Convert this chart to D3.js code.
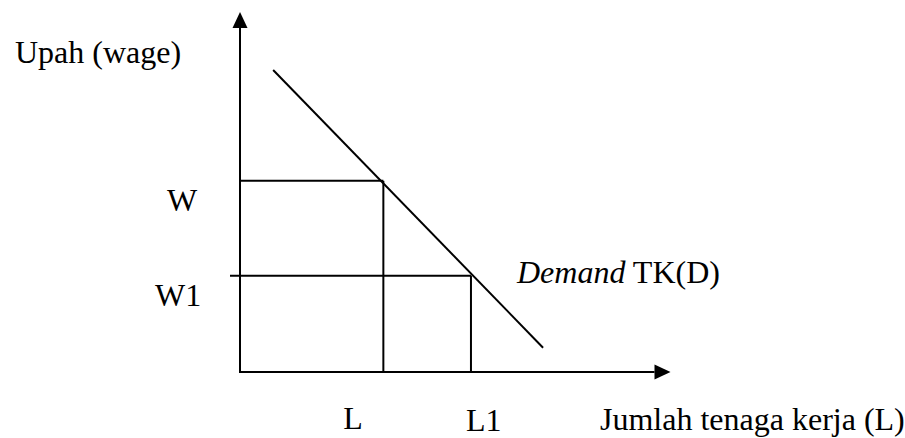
<!DOCTYPE html>
<html>
<head>
<meta charset="utf-8">
<script src="https://cdn.jsdelivr.net/npm/d3@7"></script>
<style>
  html, body { margin: 0; padding: 0; background: #fff; }
  svg text { font-family: "Liberation Serif", "Times New Roman", serif; fill: #000; }
</style>
</head>
<body>
<div id="chart"></div>
<script>
// data (axis units 0..100)
const demandLine = [ { x: 7.7, y: 83.9 }, { x: 70.4, y: 6.75 } ];
const wageLevels = [ { label: "W", value: 53.1, tick: false }, { label: "W1", value: 26.75, tick: true } ];
const labourLevels = [ { label: "L", value: 33.3, wage: 53.1 }, { label: "L1", value: 53.65, wage: 26.75 } ];
const axisTitles = { y: "Upah (wage)", x: "Jumlah tenaga kerja (L)" };

(function(){
  const width = 905, height = 438;
  const svg = d3.select("#chart").append("svg")
    .attr("width", width)
    .attr("height", height);

  // scales
  const x = d3.scaleLinear().domain([0, 100]).range([240, 670.5]);
  const y = d3.scaleLinear().domain([0, 100]).range([372, 12]);

  const ink = "#000";
  const sw = 2;
  const arrowLen = 16, arrowHalf = 7.5;

  // axes
  svg.append("line")
    .attr("x1", x(0)).attr("y1", y(0) + 1)
    .attr("x2", x(0)).attr("y2", y(100) + arrowLen)
    .attr("stroke", ink).attr("stroke-width", sw);
  svg.append("line")
    .attr("x1", x(0) - 1).attr("y1", y(0))
    .attr("x2", x(100) - arrowLen).attr("y2", y(0))
    .attr("stroke", ink).attr("stroke-width", sw);

  // arrow heads
  svg.append("path")
    .attr("d", `M${x(0)},${y(100)} L${x(0) - arrowHalf},${y(100) + arrowLen} L${x(0) + arrowHalf},${y(100) + arrowLen} Z`)
    .attr("fill", ink);
  svg.append("path")
    .attr("d", `M${x(100)},${y(0)} L${x(100) - arrowLen},${y(0) - arrowHalf} L${x(100) - arrowLen},${y(0) + arrowHalf} Z`)
    .attr("fill", ink);

  // wage guide lines (horizontal)
  svg.selectAll(".wage-line")
    .data(wageLevels)
    .enter()
    .append("line")
    .attr("class", "wage-line")
    .attr("x1", d => d.tick ? x(0) - 10 : x(0))
    .attr("x2", (d, i) => x(labourLevels[i].value))
    .attr("y1", d => y(d.value))
    .attr("y2", d => y(d.value))
    .attr("stroke", ink).attr("stroke-width", sw);

  // labour guide lines (vertical)
  svg.selectAll(".lab-line")
    .data(labourLevels)
    .enter()
    .append("line")
    .attr("class", "lab-line")
    .attr("x1", d => x(d.value))
    .attr("x2", d => x(d.value))
    .attr("y1", y(0))
    .attr("y2", d => y(d.wage))
    .attr("stroke", ink).attr("stroke-width", sw);

  // demand curve
  const line = d3.line().x(d => x(d.x)).y(d => y(d.y));
  svg.append("path")
    .datum(demandLine)
    .attr("d", line)
    .attr("fill", "none")
    .attr("stroke", ink).attr("stroke-width", sw);

  // labels
  const fs = "32px";
  svg.append("text")
    .attr("x", 15).attr("y", 63)
    .style("font-size", fs)
    .text(axisTitles.y);

  svg.selectAll(".wage-label")
    .data(wageLevels)
    .enter()
    .append("text")
    .attr("class", "wage-label")
    .attr("x", d => d.tick ? 155 : 167)
    .attr("y", d => y(d.value) + 30)
    .style("font-size", fs)
    .text(d => d.label);

  svg.selectAll(".lab-label")
    .data(labourLevels)
    .enter()
    .append("text")
    .attr("class", "lab-label")
    .attr("x", (d, i) => i === 0 ? x(d.value) - 40 : x(d.value) - 5)
    .attr("y", (d, i) => i === 0 ? 429 : 431)
    .style("font-size", fs)
    .text(d => d.label);

  svg.append("text")
    .attr("x", 600).attr("y", 430)
    .style("font-size", fs)
    .text(axisTitles.x);

  const dt = svg.append("text")
    .attr("x", 517).attr("y", 283)
    .style("font-size", fs);
  dt.append("tspan").style("font-style", "italic").text("Demand");
  dt.append("tspan").text(" TK(D)");
})();
</script>
</body>
</html>
